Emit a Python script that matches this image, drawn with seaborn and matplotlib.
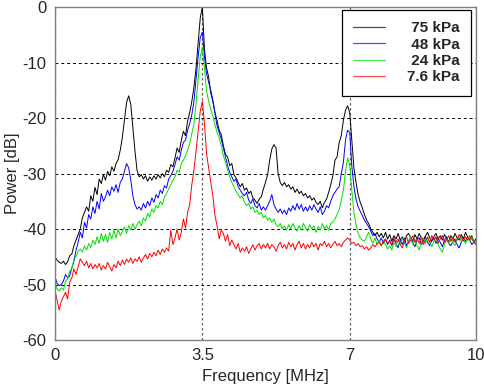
import matplotlib
matplotlib.use("Agg")
import matplotlib.pyplot as plt
import seaborn as sns
import numpy as np
import pandas as pd

# frecuencia en MHz, paso de 0.05
freq = np.linspace(0, 10, 201)

p75 = [
    -45.0, -45.6, -46.0, -46.2, -45.8, -46.4, -45.9, -44.8, -44.5, -43.0, -42.0, -41.0, -40.0, -38.0, -37.0, -36.0, -36.8, -34.0, -35.0, -32.5,
    -33.8, -31.0, -31.8, -30.2, -31.2, -29.6, -30.4, -28.8, -29.6, -28.2, -27.5, -25.8, -23.5, -20.4, -17.2, -16.0, -17.5, -21.8, -26.0, -29.5,
    -30.6, -30.2, -31.0, -30.4, -31.4, -30.6, -31.2, -30.4, -31.0, -30.2, -30.8, -30.0, -30.6, -29.4, -29.8, -28.4, -28.8, -27.2, -25.4, -26.2,
    -24.0, -22.4, -23.2, -20.5, -19.0, -17.0, -14.5, -11.0, -6.5, -2.0, 0.0, -7.5, -11.0, -12.6, -15.5, -17.0, -19.0, -20.5, -22.2, -23.0,
    -25.0, -26.6, -27.0, -28.6, -28.2, -30.2, -30.8, -31.6, -32.4, -31.8, -33.0, -32.6, -33.6, -33.2, -34.4, -34.8, -35.4, -34.6, -34.2, -32.8,
    -31.6, -30.2, -27.6, -25.6, -24.8, -25.4, -30.0, -31.6, -32.2, -31.6, -32.4, -32.0, -32.8, -32.4, -33.4, -32.8, -33.6, -33.2, -34.0, -33.6,
    -34.4, -34.0, -34.8, -34.4, -35.2, -35.6, -35.0, -36.2, -35.2, -34.6, -33.4, -32.0, -30.4, -27.6, -27.0, -24.4, -23.2, -20.4, -18.6, -17.8,
    -19.0, -24.0, -29.0, -31.6, -33.8, -35.2, -36.2, -37.4, -38.4, -39.0, -40.0, -40.6, -41.2, -40.6, -41.4, -40.8, -41.6, -40.6, -41.8, -41.0,
    -42.2, -41.2, -41.8, -40.8, -42.0, -41.4, -42.4, -41.2, -40.8, -41.6, -42.2, -41.0, -41.8, -40.8, -41.6, -42.0, -41.2, -40.6, -41.6, -42.2,
    -41.4, -40.8, -41.8, -41.2, -42.0, -41.0, -41.6, -42.4, -41.2, -41.8, -40.8, -41.6, -42.0, -41.0, -41.8, -40.6, -41.4, -42.0, -41.2, -42.2,
    -41.8,
]

p48 = [
    -48.6, -49.8, -50.2, -50.0, -49.4, -48.2, -48.8, -48.4, -47.0, -45.8, -43.8, -42.4, -40.6, -41.6, -38.8, -39.8, -37.4, -38.2, -36.0, -37.2,
    -35.0, -36.4, -33.6, -35.0, -34.2, -33.0, -34.0, -32.4, -33.2, -32.0, -33.4, -31.6, -31.0, -29.6, -28.2, -29.0, -31.2, -34.0, -35.6, -36.4,
    -36.0, -36.6, -35.4, -36.2, -35.0, -35.8, -34.4, -35.2, -33.8, -34.4, -33.0, -33.6, -32.2, -32.6, -31.0, -30.4, -29.6, -28.4, -27.0, -27.6,
    -25.8, -24.4, -24.0, -22.2, -21.0, -19.4, -17.0, -13.0, -9.0, -5.5, -4.5, -9.0, -12.0, -13.6, -15.0, -16.8, -19.2, -21.4, -22.6, -23.8,
    -25.4, -27.0, -28.6, -29.8, -30.6, -31.4, -31.0, -32.4, -33.0, -33.6, -34.0, -33.4, -34.8, -35.4, -34.6, -35.8, -36.2, -35.4, -36.6, -36.0,
    -36.6, -35.8, -35.0, -33.8, -35.6, -36.4, -37.0, -36.4, -37.2, -36.6, -37.4, -36.2, -36.8, -35.8, -36.6, -35.4, -36.4, -35.6, -36.8, -36.0,
    -36.8, -35.8, -36.6, -35.6, -36.4, -37.0, -36.0, -37.4, -36.8, -35.8, -36.2, -35.0, -34.0, -33.4, -32.8, -32.4, -30.0, -28.0, -24.0, -22.2,
    -22.6, -28.6, -32.4, -34.6, -36.0, -36.8, -37.6, -38.4, -39.0, -39.6, -40.4, -41.2, -40.8, -41.8, -42.4, -41.6, -42.6, -41.8, -42.8, -42.0,
    -43.0, -41.8, -42.6, -43.4, -42.0, -42.8, -41.6, -43.0, -42.2, -41.4, -42.6, -43.2, -42.0, -41.6, -42.8, -42.2, -41.4, -42.4, -43.0, -42.0,
    -41.6, -42.6, -41.8, -42.4, -43.2, -42.0, -41.4, -42.6, -43.0, -42.2, -41.8, -42.8, -43.4, -42.4, -41.6, -42.2, -41.4, -42.0, -42.8, -42.4,
    -42.8,
]

p24 = [
    -49.6, -50.8, -51.2, -50.6, -51.0, -49.4, -49.0, -47.6, -47.2, -45.4, -45.0, -44.0, -43.6, -44.2, -43.0, -43.8, -42.6, -43.4, -42.0, -42.8,
    -41.4, -42.6, -40.8, -42.2, -41.0, -42.4, -40.6, -41.8, -40.2, -41.6, -40.0, -41.2, -40.4, -39.6, -40.8, -39.4, -40.2, -39.0, -40.0, -39.2,
    -38.6, -39.4, -38.0, -38.6, -37.2, -37.8, -36.4, -37.0, -35.8, -36.2, -35.0, -35.6, -34.2, -33.6, -32.8, -32.0, -31.2, -30.6, -29.4, -29.8,
    -28.2, -27.6, -26.8, -25.8, -24.6, -22.8, -21.0, -17.4, -13.0, -9.0, -7.2, -11.0, -15.2, -17.0, -18.4, -19.6, -21.2, -22.6, -23.6, -25.0,
    -26.8, -28.0, -29.4, -30.6, -31.6, -32.4, -33.2, -33.8, -34.4, -34.0, -35.2, -35.8, -35.4, -36.4, -36.0, -37.0, -36.6, -37.4, -37.0, -38.0,
    -37.6, -38.4, -38.0, -38.8, -38.2, -39.2, -39.6, -39.0, -40.0, -39.4, -40.2, -39.2, -40.0, -39.0, -39.8, -40.4, -39.4, -40.2, -39.0, -39.8,
    -40.4, -39.2, -40.0, -39.4, -40.6, -39.6, -40.2, -39.0, -40.0, -39.4, -40.2, -39.0, -38.8, -38.2, -37.4, -36.6, -34.8, -33.0, -29.6, -27.2,
    -28.4, -33.0, -37.0, -39.2, -40.8, -41.6, -42.0, -42.2, -41.4, -40.6, -41.8, -42.6, -41.6, -42.8, -42.0, -43.0, -42.2, -42.8, -43.6, -43.0,
    -43.8, -42.4, -43.2, -42.0, -42.8, -41.6, -42.6, -43.4, -42.2, -41.4, -42.8, -41.8, -43.0, -43.8, -42.4, -41.6, -42.6, -41.4, -42.4, -43.2,
    -42.2, -41.6, -42.8, -43.6, -44.2, -42.8, -41.8, -42.6, -41.6, -42.4, -43.0, -42.0, -41.4, -42.2, -41.8, -42.6, -41.6, -42.2, -41.4, -42.0,
    -42.4,
]

p7_6 = [
    -51.2, -52.8, -54.6, -53.0, -52.2, -51.4, -52.6, -49.6, -48.8, -47.2, -48.2, -46.8, -45.4, -46.0, -46.6, -45.8, -47.0, -46.2, -47.2, -46.4,
    -47.0, -46.2, -47.4, -46.6, -47.2, -46.0, -46.8, -47.6, -46.4, -47.0, -45.8, -46.6, -45.6, -46.4, -45.4, -46.0, -45.2, -46.2, -45.4, -45.8,
    -45.0, -46.0, -45.2, -44.6, -45.4, -44.4, -45.0, -44.2, -44.8, -43.8, -44.6, -43.6, -44.2, -43.4, -44.0, -40.2, -42.8, -41.6, -40.0, -42.0,
    -40.6, -38.2, -39.8, -37.0, -35.6, -32.0, -29.4, -26.0, -22.4, -18.8, -17.0, -21.0, -26.4, -29.0, -31.6, -34.0, -37.6, -39.4, -41.8, -40.2,
    -40.8, -42.2, -41.0, -43.0, -42.0, -42.8, -43.6, -42.6, -44.2, -43.4, -44.0, -43.2, -44.4, -43.6, -42.8, -43.8, -43.0, -42.6, -43.6, -42.8,
    -43.4, -42.6, -43.6, -42.8, -43.2, -44.0, -43.0, -42.4, -43.4, -42.8, -43.6, -42.4, -43.2, -42.6, -43.8, -42.8, -42.2, -43.4, -42.6, -43.6,
    -42.8, -43.4, -42.4, -43.2, -42.6, -43.8, -42.6, -43.0, -42.2, -43.2, -42.6, -43.4, -42.8, -42.2, -43.0, -42.6, -43.2, -42.4, -42.0, -41.6,
    -42.0, -42.6, -42.4, -43.0, -42.6, -43.2, -43.0, -43.6, -43.2, -43.8, -43.4, -42.8, -43.2, -42.6, -42.4, -43.0, -42.2, -41.8, -42.6, -42.2,
    -42.8, -41.6, -42.4, -41.8, -42.8, -43.4, -42.0, -41.4, -42.6, -42.0, -41.2, -42.4, -41.8, -42.6, -41.4, -42.8, -42.0, -41.6, -42.4, -41.2,
    -42.0, -41.4, -42.6, -41.8, -41.2, -42.4, -42.0, -41.2, -42.2, -41.6, -42.4, -41.8, -41.0, -41.6, -42.2, -41.4, -42.0, -41.2, -41.8, -42.4,
    -42.0,
]

labels = [" 75 kPa", " 48 kPa", " 24 kPa", "7.6 kPa"]
colores = ["#000000", "#0000ff", "#00e000", "#ff0000"]

df = pd.concat([
    pd.DataFrame({"Frecuencia": freq, "Potencia": vals, "Presion": lab})
    for vals, lab in zip([p75, p48, p24, p7_6], labels)
])

sns.set_style("white")
plt.rcParams["font.family"] = ["Liberation Sans", "DejaVu Sans"]
plt.rcParams["axes.unicode_minus"] = False

fig = plt.figure(figsize=(4.84, 3.9), dpi=100)
ax = fig.add_axes([0.1136, 0.1282, 0.8699, 0.8538])

sns.lineplot(data=df, x="Frecuencia", y="Potencia", hue="Presion",
             palette=dict(zip(labels, colores)), hue_order=labels,
             linewidth=0.7, ax=ax, estimator=None, sort=False)

ax.set_xlim(0, 10)
ax.set_ylim(-60, 0)
ax.set_xticks([0, 3.5, 7, 10])
ax.set_xticklabels(["0", "3.5", "7", "10"])
ax.set_yticks(np.arange(-60, 1, 10))

ax.yaxis.grid(True, color="black", linestyle=(0, (3, 3)), linewidth=0.7)
ax.xaxis.grid(True, color="#606060", linestyle=(0, (2, 2)), linewidth=0.9)
ax.set_axisbelow(True)

for s in ax.spines.values():
    s.set_color("#808080")
    s.set_linewidth(1.0)

ax.tick_params(axis="both", labelsize=12, direction="in", length=0, pad=6)
ax.set_xlabel("Frequency [MHz]", fontsize=12)
ax.set_ylabel("Power [dB]", fontsize=12, labelpad=2)

leg = ax.legend(loc="upper right", bbox_to_anchor=(0.988, 0.991), borderaxespad=0,
                fancybox=False, framealpha=1, edgecolor="black",
                handlelength=2.1, handletextpad=1.4, borderpad=0.75, labelspacing=0.15,
                prop={"weight": "bold", "size": 11})
leg.get_frame().set_linewidth(0.9)
for h in leg.get_lines():
    h.set_linewidth(0.9)
    h.set_alpha(0.7)

fig.savefig("out.png", dpi=100)
